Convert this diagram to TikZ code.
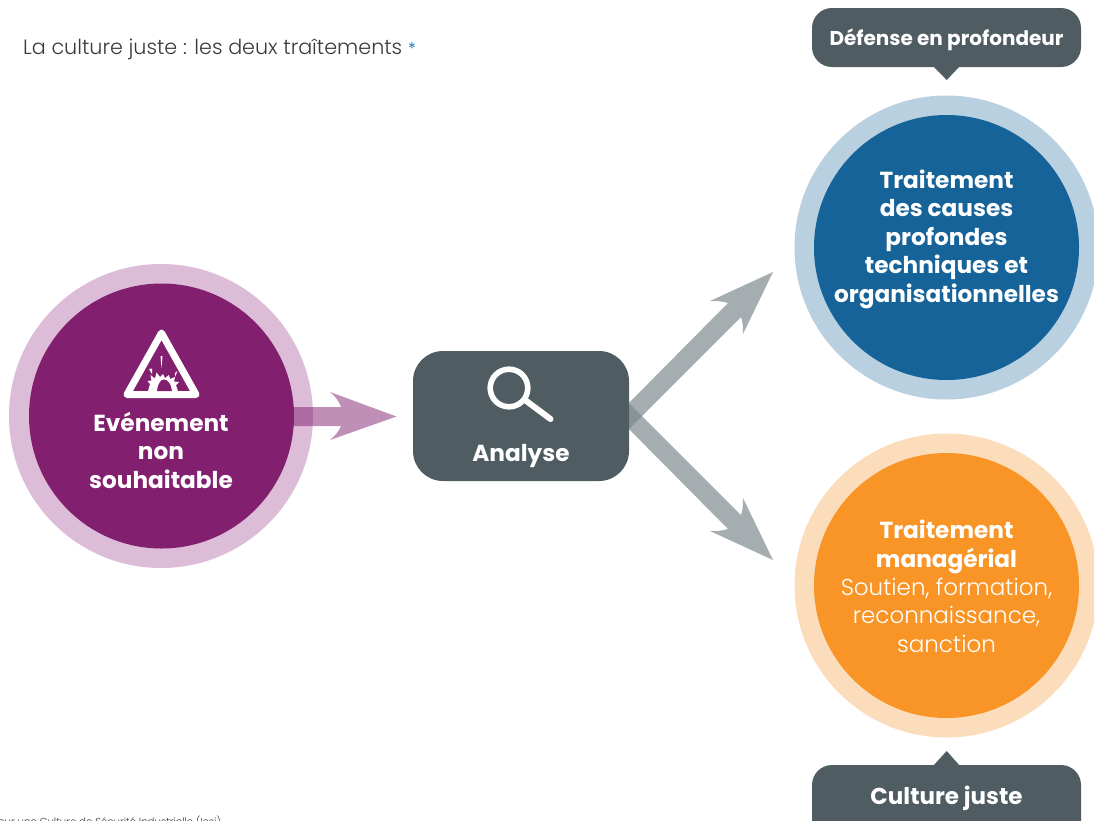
\documentclass[tikz,border=0pt]{standalone}
\usepackage{fontspec}
\setmainfont{Poppins}
\newfontfamily\thin{Poppins Light}
\definecolor{pout}{HTML}{DCBCD7}
\definecolor{plum}{HTML}{82206F}
\definecolor{bout}{HTML}{B8D0DF}
\definecolor{bin}{HTML}{156398}
\definecolor{oout}{HTML}{FCDDBB}
\definecolor{oin}{HTML}{F89526}
\definecolor{slate}{HTML}{4F5D63}
\definecolor{garr}{HTML}{7B868B}
\definecolor{txt}{HTML}{3A3A3A}
\definecolor{starcol}{HTML}{1F78B8}
\tikzset{
 outerdisc/.style={circle,inner sep=0,minimum size=304},
 innerdisc/.style={circle,inner sep=0,minimum size=265},
 lab/.style={text=white,align=center,font=\fontsize{23.2}{28.5}\selectfont\bfseries,inner sep=0},
 labl/.style={text=white,align=center,font=\fontsize{23}{28.5}\selectfont\thin,inner sep=0},
 slatebox/.style={fill=slate,rounded corners=30},
 tag/.style={text=white,font=\fontsize{20}{24}\selectfont\bfseries,inner sep=0,anchor=center},
}
\begin{document}
\begin{tikzpicture}[x=1pt,y=-1pt]
\useasboundingbox (0,0) rectangle (1094,820);
\clip (0,0) rectangle (1094,820);
% circles
\node[outerdisc,fill=pout] (eo) at (161,416) {};
\fill[fill=plum,opacity=.5] (285,407) -- (341,407) .. controls (339,401) and (335,396) .. (330,392) -- (396.5,416.5) -- (330,440) .. controls (335,436) and (339,431) .. (341,426) -- (285,426) -- cycle;
\node[innerdisc,fill=plum] (ei) at (161.5,416) {};
\node[outerdisc,fill=bout] (to) at (946.5,247.5) {};
\node[innerdisc,fill=bin] (ti) at (946.5,247.5) {};
\node[outerdisc,fill=oout] (mo) at (946.5,585.5) {};
\node[innerdisc,fill=oin] (mi) at (946.5,585.5) {};
% arrows
\fill[garr,opacity=.68] (620,412) -- (728,303) .. controls (722,301) and (716,301) .. (710,301) -- (773,272) -- (743,334) .. controls (743,328) and (743,322) .. (741,317) -- (620,438) -- cycle;
\fill[garr,opacity=.68] (620,420) -- (728,529) .. controls (722,531) and (716,531) .. (710,531) -- (773,560) -- (743,498) .. controls (743,504) and (743,510) .. (741,515) -- (620,394) -- cycle;
% box
\node[slatebox,minimum width=216,minimum height=130,inner sep=0] (an) at (521,416) {};
\node[lab] (ant) at (521,456) {Analyse};
\draw[white,line width=5.6] (509,388) circle (18.8);
\draw[white,line width=6,line cap=round] (525,400) -- (550.5,419);
% warning icon
\draw[white,line width=7,line join=round] (161.5,333) -- (127,394.5) -- (196,394.5) -- cycle;
\fill[white] (148,391) -- (150,384) -- (147.5,381) -- (151.5,380.5) -- (150.5,375) -- (155,378.5) -- (156.5,372.5) -- (160,377) -- (163,374) -- (165,378) -- (169,375) -- (170,379) -- (175,377) -- (174,381.5) -- (179,382) -- (176,385) -- (178,391) -- cycle;
\fill[fill=plum] (157,391) .. controls (158,383) and (161,379.5) .. (164,379.5) .. controls (168,379.5) and (171,384) .. (172,391) -- cycle;
\fill[white] (160.5,356) -- (162.5,356) -- (161.5,368) -- cycle;
\fill[white] (149,369) -- (152,368.5) -- (152,374) -- cycle;
\fill[white] (175,373) -- (177.5,371) -- (175,377) -- cycle;
% labels
\node[lab] (e) at (161,450) {Evénement\\non\\souhaitable};
\node[lab] (t) at (946.5,239) {Traitement\\des causes\\profondes\\techniques et\\organisationnelles};
\node[lab] (m) at (946.5,547) {Traitement\\managérial};
\node[labl] (ms) at (946.5,615) {Soutien, formation,\\reconnaissance,\\sanction};
% tags
\fill[slate,rounded corners=20] (812,8) rectangle (1081,67);
\fill[slate] (933,66) -- (946.7,80) -- (960,66) -- cycle;
\node[tag] (d) at (946.5,39.5) {Défense en profondeur};
\fill[slate,rounded corners=20] (812,765) rectangle (1081,850);
\fill[slate] (933,766) -- (946.7,751) -- (960,766) -- cycle;
\node[tag,font=\fontsize{23}{26}\selectfont\bfseries] (c) at (946.5,798) {Culture juste};
% title and footer
\node[anchor=west,inner sep=0,text=txt,font=\fontsize{20.7}{24}\selectfont\thin] (title) at (23,49) {La culture juste : les deux traîtements};
\node[anchor=west,inner sep=0,text=starcol,font=\fontsize{16}{16}\selectfont] (st) at (408,49) {*};
\node[anchor=east,inner sep=0,text=txt,font=\fontsize{10.2}{11}\selectfont\thin] (foot) at (221,822) {Institut pour une Culture de Sécurité Industrielle (Icsi)};
\end{tikzpicture}
\end{document}
